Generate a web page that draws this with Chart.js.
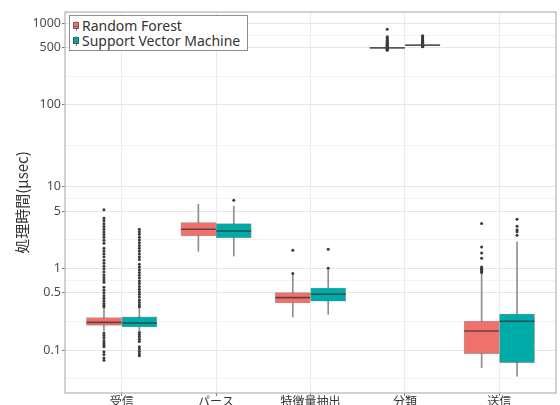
<!DOCTYPE html>
<html lang="ja">
<head>
<meta charset="utf-8">
<title>処理時間</title>
<script src="https://cdn.jsdelivr.net/npm/chart.js@4.4.1/dist/chart.umd.min.js"></script>
<style>
  html, body { margin: 0; padding: 0; background: #fff; }
  #wrap { position: relative; width: 560px; height: 405px; }
  #legend {
    position: absolute; left: 69px; top: 15px; width: 179px; height: 36px;
    box-sizing: border-box; border: 1.5px solid #8c8c8c; background: #fff;
    padding: 2px 0 0 3px;
    font: 14px "Noto Sans", "Noto Sans CJK JP", sans-serif; color: #333; line-height: 15px;
  }
  .item { display: flex; align-items: center; height: 15px; white-space: nowrap; }
  .key { position: relative; width: 6px; height: 7px; margin-right: 3px; box-sizing: border-box;
         border: 0.5px solid rgba(51,51,51,0.5); }
  .key::before, .key::after { content: ''; position: absolute; left: 2px; width: 1px; height: 2px; background: #888; }
  .key::before { top: -2.5px; }
  .key::after { bottom: -2.5px; }
</style>
</head>
<body>
<div id="wrap">
  <canvas id="chart" width="560" height="405"></canvas>
  <div id="legend"></div>
</div>
<script>
const categories = ['受信', 'パース', '特徴量抽出', '分類', '送信'];
const seriesNames = ['Random Forest', 'Support Vector Machine'];
const yTicks = [0.1, 0.5, 1, 5, 10, 100, 500, 1000];
const yMinorTicks = [0.0447, 0.224, 0.707, 2.24, 7.07, 31.6, 224, 707];

// Random Forest box statistics per stage
const rfQ1 = [0.200, 2.49, 0.376, 494, 0.0904];
const rfMedian = [0.218, 3.00, 0.438, 497, 0.171];
const rfQ3 = [0.249, 3.63, 0.504, 500, 0.226];
const rfLow = [0.17, 1.61, 0.254, 494, 0.061];
const rfHigh = [0.32, 6.07, 0.82, 500, 0.85];
const rfOutliers = [
  [5.2, 4.09, 3.8, 3.5, 3.25, 3.0, 2.78, 2.58, 2.39, 2.2, 2.02, 1.76, 1.63, 1.5, 1.38, 1.25, 1.15, 1.06,
   0.98, 0.9, 0.83, 0.77, 0.72, 0.674, 0.585, 0.54, 0.5, 0.46, 0.43, 0.4, 0.37, 0.35, 0.335,
   0.16, 0.15, 0.14, 0.13, 0.122, 0.115, 0.11, 0.095, 0.088, 0.08, 0.075],
  [],
  [0.86, 1.66],
  [466, 472, 478, 484, 490, 505, 512, 520, 528, 537, 546, 556, 566, 577, 590, 605, 622, 640, 660, 678, 842],
  [0.88, 0.91, 0.94, 0.97, 1.01, 1.04, 1.33, 1.54, 1.82, 3.53]
];

// Support Vector Machine box statistics per stage
const svmQ1 = [0.191, 2.35, 0.395, 533, 0.0701];
const svmMedian = [0.214, 2.86, 0.481, 536, 0.2245];
const svmQ3 = [0.254, 3.52, 0.574, 539, 0.276];
const svmLow = [0.168, 1.41, 0.273, 533, 0.048];
const svmHigh = [0.32, 5.74, 0.96, 539, 2.1];
const svmOutliers = [
  [3.0, 2.8, 2.6, 2.4, 2.22, 2.05, 1.9, 1.76, 1.63, 1.5, 1.38, 1.28, 1.12, 1.04, 0.96, 0.89, 0.82, 0.76,
   0.7, 0.65, 0.6, 0.555, 0.515, 0.48, 0.445, 0.41, 0.38, 0.355, 0.335,
   0.165, 0.155, 0.145, 0.135, 0.127, 0.11, 0.103, 0.096, 0.09, 0.085],
  [6.8],
  [1.0, 1.71],
  [511, 516, 521, 526, 531, 542, 548, 555, 563, 572, 582, 594, 607, 622, 640, 660, 680, 697],
  [2.53, 2.8, 2.95, 3.27, 3.98]
];

const colors = ['#F0706B', '#00ABA7'];
const dodge = 0.1875;   // half of the dodge width, in category units
const boxWidth = 35;

const series = [
  { q1: rfQ1, med: rfMedian, q3: rfQ3, low: rfLow, high: rfHigh, out: rfOutliers, shift: -dodge },
  { q1: svmQ1, med: svmMedian, q3: svmQ3, low: svmLow, high: svmHigh, out: svmOutliers, shift: dodge }
];

// legend
const legendEl = document.getElementById('legend');
seriesNames.forEach((name, k) => {
  const item = document.createElement('div');
  item.className = 'item';
  const key = document.createElement('span');
  key.className = 'key';
  key.style.background = `linear-gradient(${colors[k]} 3px, rgba(51,51,51,0.7) 3px, rgba(51,51,51,0.7) 4px, ${colors[k]} 4px)`;
  item.appendChild(key);
  item.appendChild(document.createTextNode(name));
  legendEl.appendChild(item);
});

const datasets = [];
series.forEach((s, k) => {
  datasets.push({
    type: 'bar',
    label: seriesNames[k],
    data: categories.map((c, i) => ({ x: i + s.shift, y: [s.q1[i], s.q3[i]] })),
    backgroundColor: colors[k],
    borderColor: 'rgba(51,51,51,0.45)',
    borderWidth: 0.7,
    borderSkipped: false,
    barThickness: boxWidth,
    grouped: false,
    order: 1,
    isBox: true,
    medians: s.med
  });
  datasets.push({
    type: 'bar',
    label: seriesNames[k] + ' whisker',
    data: categories.map((c, i) => ({ x: i + s.shift, y: [s.low[i], s.high[i]] })),
    backgroundColor: '#8f8f8f',
    borderWidth: 0,
    barThickness: 1,
    grouped: false,
    order: 2
  });
  const pts = [];
  s.out.forEach((vals, i) => vals.forEach(v => pts.push({ x: i + s.shift, y: v })));
  datasets.push({
    type: 'scatter',
    label: seriesNames[k] + ' outliers',
    data: pts,
    pointRadius: 1.5,
    pointBackgroundColor: '#3a3a3a',
    pointBorderWidth: 0,
    order: 3
  });
});

// median line on each box
const medianLines = {
  id: 'medianLines',
  afterDatasetsDraw(chart) {
    const ctx = chart.ctx;
    const y = chart.scales.y;
    ctx.save();
    ctx.strokeStyle = 'rgba(51,51,51,0.75)';
    ctx.lineWidth = 1.6;
    chart.data.datasets.forEach((ds, di) => {
      if (!ds.isBox) return;
      chart.getDatasetMeta(di).data.forEach((bar, i) => {
        const py = y.getPixelForValue(ds.medians[i]);
        ctx.beginPath();
        ctx.moveTo(bar.x - bar.width / 2, py);
        ctx.lineTo(bar.x + bar.width / 2, py);
        ctx.stroke();
      });
    });
    ctx.restore();
  }
};

// panel border round the plot area
const panelBorder = {
  id: 'panelBorder',
  afterDraw(chart) {
    const a = chart.chartArea;
    const ctx = chart.ctx;
    ctx.save();
    ctx.strokeStyle = '#b3b3b3';
    ctx.lineWidth = 1.2;
    ctx.strokeRect(a.left, a.top, a.right - a.left, a.bottom - a.top);
    ctx.restore();
  }
};

const font = { family: '"Noto Sans", "Noto Sans CJK JP", sans-serif' };

new Chart(document.getElementById('chart').getContext('2d'), {
  type: 'bar',
  data: { datasets: datasets },
  plugins: [medianLines, panelBorder],
  options: {
    responsive: false,
    animation: false,
    layout: { padding: { top: 12, right: 2, left: 0, bottom: 0 } },
    plugins: {
      legend: { display: false },
      tooltip: { enabled: false }
    },
    scales: {
      x: {
        type: 'linear',
        min: -0.6,
        max: 4.6,
        offset: false,
        afterBuildTicks: scale => { scale.ticks = categories.map((c, i) => ({ value: i })); },
        afterFit: scale => { scale.height = 12; },
        ticks: {
          autoSkip: false,
          maxRotation: 0,
          padding: -2,
          color: '#333',
          font: { ...font, family: '"Noto Sans CJK JP", sans-serif', size: 12 },
          callback: (value, index) => categories[index]
        },
        grid: { offset: false, color: '#ebebeb', lineWidth: 1, tickLength: 3, tickColor: '#7f7f7f' },
        border: { display: false }
      },
      y: {
        type: 'logarithmic',
        min: 0.0298,
        max: 1364,
        afterBuildTicks: scale => {
          scale.ticks = yMinorTicks.concat(yTicks).sort((a, b) => a - b).map(v => ({ value: v }));
        },
        afterFit: scale => { scale.width = 65; },
        ticks: {
          autoSkip: false,
          padding: 1,
          color: '#4d4d4d',
          font: { ...font, size: 12.5 },
          callback: value => (yTicks.includes(value) ? String(value) : '')
        },
        grid: {
          color: ctx => (yTicks.includes(ctx.tick.value) ? '#e6e6e6' : '#f0f0f0'),
          lineWidth: ctx => (yTicks.includes(ctx.tick.value) ? 1 : 0.8),
          tickLength: 3,
          tickColor: ctx => (yTicks.includes(ctx.tick.value) ? '#7f7f7f' : 'rgba(0,0,0,0)')
        },
        border: { display: false },
        title: {
          display: true,
          text: '処理時間(μsec)',
          color: '#333',
          font: { ...font, family: '"Noto Sans CJK JP", sans-serif', size: 15 },
          padding: { top: 13, bottom: 0 }
        }
      }
    }
  }
});
</script>
</body>
</html>
